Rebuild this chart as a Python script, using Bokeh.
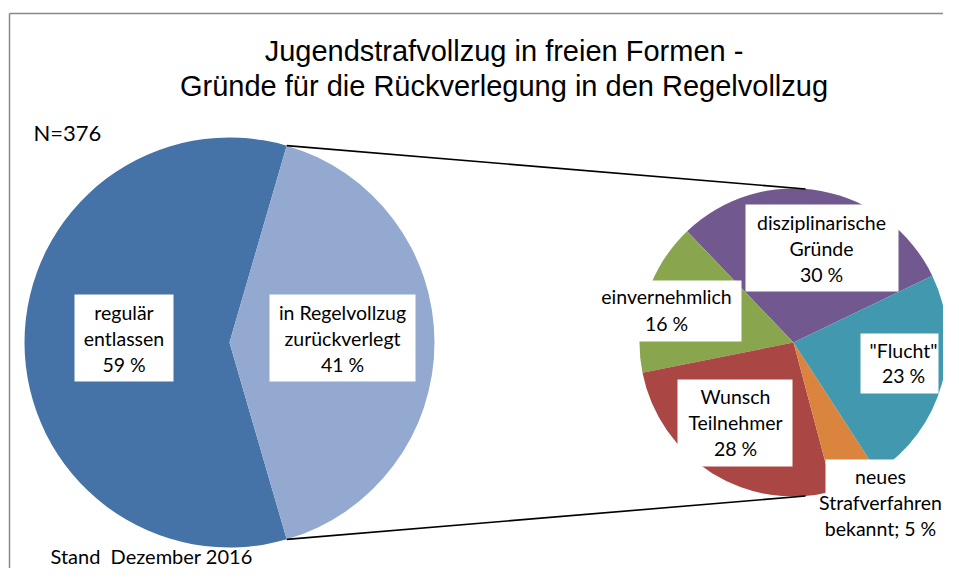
import math
from bokeh.plotting import figure
from bokeh.models import Range1d
from bokeh.core.properties import value
from bokeh.embed import file_html
from bokeh.resources import INLINE

# ---------------- data ----------------
title_lines = ["Jugendstrafvollzug in freien Formen -",
               "Gründe für die Rückverlegung in den Regelvollzug"]
sample_note = "N=376"
date_note = "Stand\u00a0 Dezember 2016"

main_categories = ["regulär entlassen", "in Regelvollzug zurückverlegt"]
main_values = [59, 41]
main_label_lines = [["regulär", "entlassen", "59 %"],
                    ["in Regelvollzug", "zurückverlegt", "41 %"]]
main_colors = ["#4572A7", "#93A9CF"]

sub_categories = ["disziplinarische Gründe", "einvernehmlich", "Wunsch Teilnehmer",
                  "neues Strafverfahren bekannt", "\"Flucht\""]
sub_values = [30, 16, 26, 5, 23]
sub_label_lines = [["disziplinarische", "Gründe", "30 %"],
                   ["einvernehmlich", "16 %"],
                   ["Wunsch", "Teilnehmer", "28 %"],
                   ["neues", "Strafverfahren", "bekannt; 5 %"],
                   ["\"Flucht\"", "23 %"]]
sub_colors = ["#71588F", "#89A54E", "#AA4643", "#DB843D", "#4198AF"]

# ---------------- layout ----------------
W, H = 943, 568


def sy(y):
    # picture y (from top) -> data y
    return H - y


p = figure(width=W, height=H, output_backend="svg", toolbar_location=None,
           x_range=Range1d(0, W), y_range=Range1d(0, H), min_border=0)
p.axis.visible = False
p.xgrid.visible = False
p.ygrid.visible = False
p.outline_line_color = None
p.background_fill_color = "white"
p.border_fill_color = "white"

# border of chart area (top and left visible)
p.segment(x0=[9, 9], y0=[sy(13), sy(13)], x1=[9, W], y1=[0, sy(13)],
          line_color="#898989", line_width=1.5)

# main pie
mcx, mcy, mr = 229, sy(342), 205
m_total = sum(main_values)
other_frac = main_values[1] / m_total
a = math.pi * other_frac
for v, c in zip(main_values, main_colors):
    da = 2 * math.pi * v / m_total
    p.wedge(x=[mcx], y=[mcy], radius=mr, start_angle=a, end_angle=a + da,
            direction="anticlock", fill_color=c, line_color=None)
    a += da

# secondary pie
scx, scy, sr = 793, sy(342), 154
s_total = sum(sub_values)
a = math.radians(25.7)
for v, c in zip(sub_values, sub_colors):
    da = 2 * math.pi * v / s_total
    p.wedge(x=[scx], y=[scy], radius=sr, start_angle=a, end_angle=a + da,
            direction="anticlock", fill_color=c, line_color=None)
    a += da

# connector lines
top_a = math.pi * other_frac
conn_a = math.radians(85.5)
p.segment(x0=[mcx + mr * math.cos(top_a), mcx + mr * math.cos(-top_a)],
          y0=[mcy + mr * math.sin(top_a), mcy + mr * math.sin(-top_a)],
          x1=[scx + sr * math.cos(conn_a), scx + sr * math.cos(-conn_a)],
          y1=[scy + sr * math.sin(conn_a), scy + sr * math.sin(-conn_a)],
          line_color="black", line_width=1.6)

# label boxes (picture coords: left, right, top, bottom) and text line centres
LBL_FONT = value("Lato")
LBL_SIZE = "19.5px"

main_boxes = [(74, 173, 294, 381), (269, 415, 294, 381)]
main_text_x = [123.5, 342]
main_text_y = [311.5, 337.5, 363.5]

sub_boxes = [(745, 898, 204, 291), (591, 741, 280, 341), (677, 792, 379, 466),
             (825, W, 459, 545), (860, 938, 333, 393)]
sub_text_x = [821, 666, 735, 880, 903]
sub_text_y = [[221.8, 247.8, 273.5], [296, 322.8], [396, 422, 448.2],
              [476, 502, 528], [349.5, 375.2]]


def draw_box(box):
    l, r, t, b = box
    p.quad(left=[l], right=[r], top=[sy(t)], bottom=[sy(b)],
           fill_color="white", line_color=None)


def draw_lines(x, ys, lines):
    p.text(x=[x] * len(lines), y=[sy(y) for y in ys], text=lines,
           text_font=LBL_FONT, text_font_size=LBL_SIZE, text_align="center",
           text_baseline="middle", text_color="black")


for box, x, lines in zip(main_boxes, main_text_x, main_label_lines):
    draw_box(box)
    draw_lines(x, main_text_y, lines)

for box, x, ys, lines in zip(sub_boxes, sub_text_x, sub_text_y, sub_label_lines):
    draw_box(box)
    draw_lines(x, ys, lines)

# title
p.text(x=[503.5, 503.5], y=[sy(50), sy(85)], text=title_lines,
       text_font=value("Liberation Sans"), text_font_size="29px",
       text_align="center", text_baseline="middle", text_color="black")

# notes
p.text(x=[33], y=[sy(131.5)], text=[sample_note], text_font=LBL_FONT,
       text_font_size="22px", text_align="left", text_baseline="middle",
       text_color="black")
p.text(x=[50], y=[sy(555)], text=[date_note], text_font=LBL_FONT,
       text_font_size="20px", text_align="left", text_baseline="middle",
       text_color="black")

open("out.html", "w").write(file_html(p, INLINE))
